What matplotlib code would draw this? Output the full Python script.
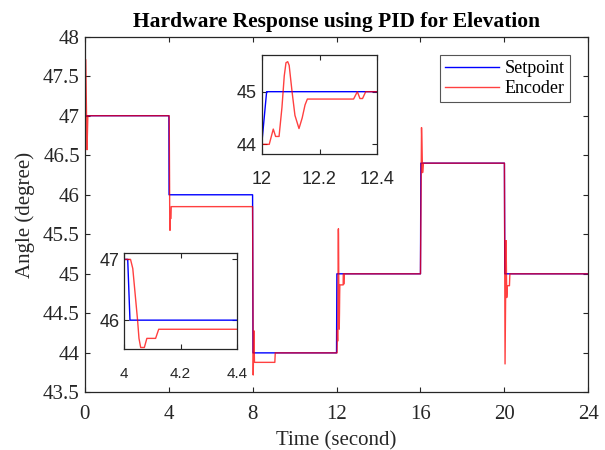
import matplotlib
matplotlib.use('Agg')
import matplotlib.pyplot as plt
from matplotlib.ticker import FuncFormatter

# setpoint (degree) vs time (second)
t_set = [0, 0.02, 4.012, 4.02, 8.0, 8.02, 12.0, 12.017, 16.0, 16.02, 20.0, 20.02, 24.0]
v_set = [45, 47, 47, 46, 46, 44, 44, 45, 45, 46.4, 46.4, 45, 45]

# encoder reading
t_enc = [0, 0.05, 0.11, 0.15,
         4.022, 4.03, 4.047, 4.052, 4.058, 4.071, 4.08, 4.111, 4.122,
         8.0, 8.03, 8.06, 8.09, 9.06, 9.08,
         12.026, 12.04, 12.048, 12.06, 12.07, 12.078, 12.084, 12.09, 12.095, 12.105, 12.115, 12.129,
         12.14, 12.15, 12.158, 12.318, 12.331, 12.34, 12.349, 12.36,
         16.0, 16.05, 16.1, 16.14,
         20.0, 20.03, 20.08, 20.11, 20.14, 20.24, 20.26, 24.0]
v_enc = [45, 47.71, 46.57, 47.0,
         47.0, 46.85, 46.0, 45.7, 45.55, 45.55, 45.7, 45.7, 45.85,
         45.85, 43.72, 44.28, 43.88, 43.88, 44.0,
         44.0, 44.29, 44.15, 44.15, 44.7, 45.3, 45.55, 45.57, 45.5, 45.0, 44.55, 44.3,
         44.5, 44.75, 44.86, 44.86, 45.0, 44.87, 44.87, 45.0,
         45.0, 46.85, 46.28, 46.4,
         46.4, 43.86, 45.42, 44.7, 44.85, 44.85, 45.0, 45.0]

xticks_main = [0, 4, 8, 12, 16, 20, 24]
yticks_main = [43.5, 44, 44.5, 45, 45.5, 46, 46.5, 47, 47.5, 48]

txt = '#262626'
serif = ['Liberation Serif', 'DejaVu Serif']
sans = ['Liberation Sans', 'DejaVu Sans']

fig = plt.figure(figsize=(6.05, 4.5), dpi=100)
ax = fig.add_axes([0.140, 0.128, 0.8325, 0.7905])


def style(a, fam, fs):
    a.tick_params(direction='in', length=3.5, width=0.8, top=True, right=True,
                  colors=txt, labelsize=fs)
    for s in a.spines.values():
        s.set_color(txt)
        s.set_linewidth(0.9)
    for lab in a.get_xticklabels() + a.get_yticklabels():
        lab.set_family(fam)


ax.plot(t_set, v_set, color='blue', lw=1.0, label='Setpoint')
ax.plot(t_enc, v_enc, color='red', lw=1.0, alpha=0.75, label='Encoder')
ax.set_xlim(0, 24)
ax.set_ylim(43.5, 48)
ax.set_xticks(xticks_main)
ax.set_yticks(yticks_main)
ax.yaxis.set_major_formatter(FuncFormatter(lambda v, p: '%g' % v))
style(ax, serif, 15)
ax.tick_params(axis='x', pad=9)
ax.set_title('Hardware Response using PID for Elevation', family=serif,
             fontweight='bold', fontsize=15.5, color='black', pad=7)
ax.set_xlabel('Time (second)', family=serif, fontsize=15, color=txt, labelpad=5)
ax.set_ylabel('Angle (degree)', family=serif, fontsize=15, color=txt, labelpad=6)
leg = ax.legend(loc='upper right', prop={'family': serif, 'size': 13},
                fancybox=False, framealpha=1, edgecolor='#555555',
                borderpad=0.3, handlelength=3.0, labelspacing=0.15,
                handletextpad=0.3, borderaxespad=1.0)
leg.get_frame().set_linewidth(0.8)

# inset around t = 4
ax1 = fig.add_axes([0.2055, 0.2251, 0.1863, 0.2133])
ax1.plot(t_set, v_set, color='blue', lw=1.0)
ax1.plot(t_enc, v_enc, color='red', lw=1.0, alpha=0.75)
ax1.set_xlim(4, 4.4)
ax1.set_ylim(45.53, 47.11)
ax1.set_xticks([4, 4.2, 4.4])
ax1.set_yticks([46, 47])
ax1.xaxis.set_major_formatter(FuncFormatter(lambda v, p: '%g' % round(v, 2)))
style(ax1, sans, 11)
ax1.tick_params(axis='y', labelsize=13)
ax1.tick_params(axis='x', pad=13)

# inset around t = 12
ax2 = fig.add_axes([0.4326, 0.657, 0.191, 0.22])
ax2.plot(t_set, v_set, color='blue', lw=1.0)
ax2.plot(t_enc, v_enc, color='red', lw=1.0, alpha=0.75)
ax2.set_xlim(12, 12.4)
ax2.set_ylim(43.81, 45.69)
ax2.set_xticks([12, 12.2, 12.4])
ax2.set_yticks([44, 45])
ax2.xaxis.set_major_formatter(FuncFormatter(lambda v, p: '%g' % round(v, 2)))
style(ax2, sans, 13)
ax2.tick_params(axis='x', pad=12)

fig.savefig('out.png', dpi=100)
